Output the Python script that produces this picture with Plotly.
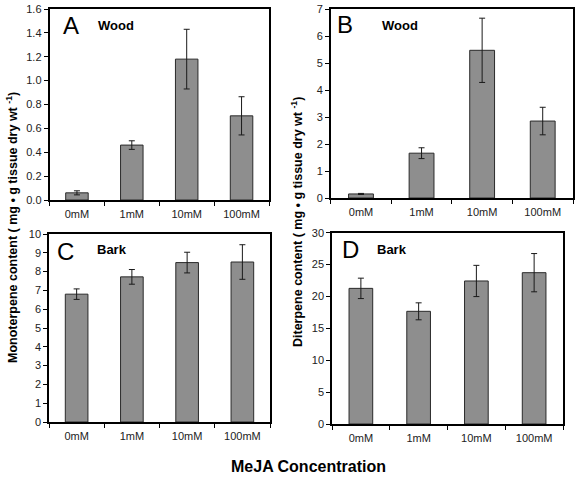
import plotly.graph_objects as go

categories = ["0mM", "1mM", "10mM", "100mM"]

mono_wood = [0.06, 0.46, 1.18, 0.705]
mono_wood_err = [0.017, 0.036, 0.25, 0.16]
di_wood = [0.15, 1.66, 5.47, 2.85]
di_wood_err = [0.02, 0.2, 1.19, 0.51]
mono_bark = [6.80, 7.72, 8.48, 8.51]
mono_bark_err = [0.28, 0.39, 0.55, 0.92]
di_bark = [21.27, 17.67, 22.43, 23.73]
di_bark_err = [1.6, 1.33, 2.45, 3.0]

W, H = 576, 485
def px(x): return x / W
def py(y): return 1 - y / H

panels = [
    (mono_wood, mono_wood_err, "x", "y", (49.5, 269), (9, 200), [0, 1.6], 0.2, ".1f"),
    (di_wood, di_wood_err, "x2", "y2", (330.7, 573), (9, 198), [0, 7], 1, "d"),
    (mono_bark, mono_bark_err, "x3", "y3", (49, 270), (234, 422), [0, 10], 1, "d"),
    (di_bark, di_bark_err, "x4", "y4", (332, 563), (232.7, 424), [0, 30], 5, "d"),
]

fig = go.Figure()
layout = dict(
    width=W, height=H, margin=dict(l=0, r=0, t=0, b=0, autoexpand=False),
    paper_bgcolor="white", plot_bgcolor="white", showlegend=False,
    font=dict(family="Liberation Sans, Arial", size=11, color="black"),
    bargap=0.59,
)
for i, (vals, errs, xa, ya, xd, yd, yr, dt, fmt) in enumerate(panels):
    fig.add_trace(go.Bar(
        x=categories, y=vals, xaxis=xa, yaxis=ya,
        marker=dict(color="#8e8e8e", line=dict(color="#2a2a2a", width=1)),
        error_y=dict(type="data", array=errs, color="#1a1a1a", thickness=1, width=3),
    ))
    sfx = "" if i == 0 else str(i + 1)
    layout["xaxis" + sfx] = dict(
        domain=[px(xd[0]), px(xd[1])], anchor=ya, automargin=False,
        showline=True, linecolor="black", linewidth=1.5, mirror=True,
        ticks="outside", ticklen=4, tickcolor="black", tickson="boundaries",
        ticklabelstandoff=3,
        showgrid=False, tickfont=dict(size=11, color="#222"),
    )
    layout["yaxis" + sfx] = dict(
        domain=[py(yd[1]), py(yd[0])], anchor=xa, range=yr, dtick=dt,
        tickformat=fmt, automargin=False, ticklabeloverflow="allow",
        showline=True, linecolor="black", linewidth=1.5, mirror=True,
        ticks="outside", ticklen=4, tickcolor="black",
        showgrid=False, zeroline=False, tickfont=dict(size=11, color="#222"),
    )
fig.update_layout(**layout)

ann = []
letters = [("A", 71, 25, "Wood", 116, 25), ("B", 345, 24, "Wood", 400, 25),
           ("C", 65, 251, "Bark", 112, 250), ("D", 350, 250, "Bark", 392, 250)]
common = dict(xref="paper", yref="paper", showarrow=False, xanchor="center", yanchor="middle")
for L, lx, ly, t, tx, ty in letters:
    ann.append(dict(text=L, x=px(lx), y=py(ly), font=dict(size=24, color="black"), **common))
    ann.append(dict(text="<b>" + t + "</b>", x=px(tx), y=py(ty),
                    font=dict(size=13, color="black"), **common))
ann.append(dict(text="<b>Monoterpene content ( mg • g tissue dry wt <sup>-1</sup>)</b>",
                x=px(12), y=py(228), textangle=-90,
                font=dict(size=12.5, color="black"), **common))
ann.append(dict(text="<b>Diterpene content ( mg • g tissue dry wt <sup>-1</sup>)</b>",
                x=px(297), y=py(222), textangle=-90,
                font=dict(size=12.5, color="black"), **common))
ann.append(dict(text="<b>MeJA Concentration</b>", x=px(308), y=py(466),
                font=dict(size=16, color="black"), **common))
fig.update_layout(annotations=ann)

fig.write_html("out.html", config={"displayModeBar": False},
               post_script="document.body.style.margin='0';")
